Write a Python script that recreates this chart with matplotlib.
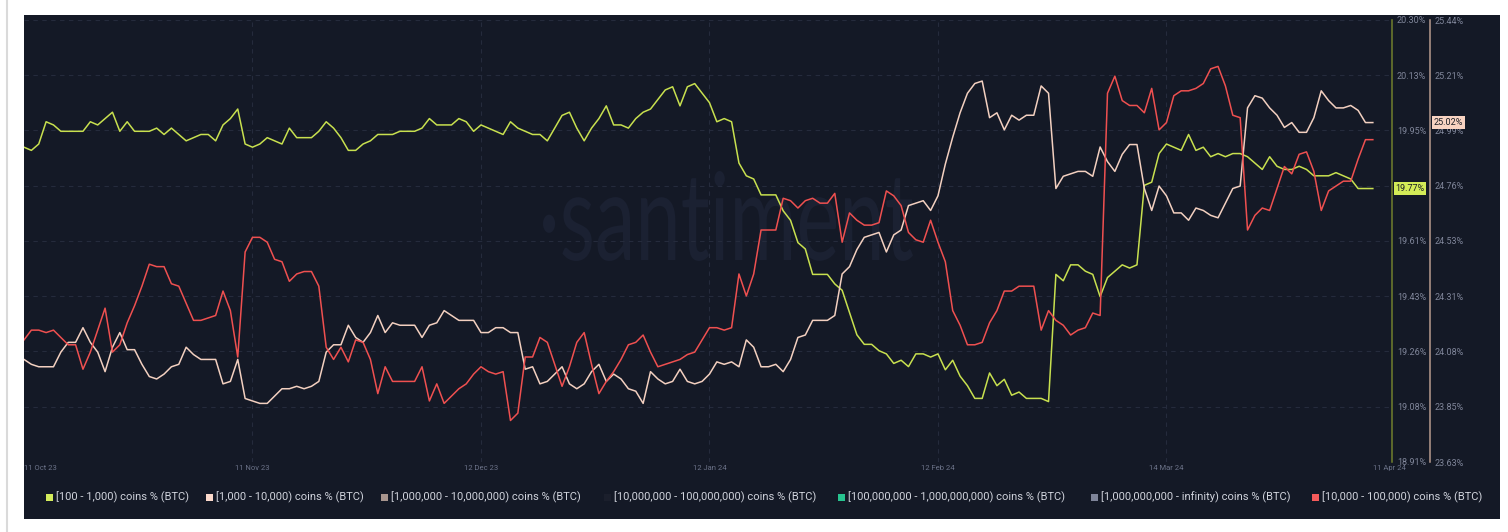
import numpy as np
import pandas as pd
import matplotlib
matplotlib.use("Agg")
import matplotlib.pyplot as plt
import matplotlib.transforms as mtransforms
from matplotlib.patches import Rectangle, PathPatch
from matplotlib.lines import Line2D
from matplotlib.textpath import TextPath
from matplotlib.font_manager import FontProperties

#---- data (daily, 11 Oct 23 -> 11 Apr 24)
holders_100_1k = [  # left axis, %
    19.90, 19.89, 19.91, 19.98, 19.97, 19.95, 19.95, 19.95, 19.95, 19.98,
    19.97, 19.99, 20.01, 19.95, 19.98, 19.95, 19.95, 19.95, 19.96, 19.94,
    19.96, 19.94, 19.92, 19.93, 19.94, 19.94, 19.92, 19.97, 19.99, 20.02,
    19.91, 19.90, 19.91, 19.93, 19.92, 19.91, 19.96, 19.93, 19.93, 19.93,
    19.95, 19.98, 19.96, 19.93, 19.89, 19.89, 19.91, 19.92, 19.94, 19.94,
    19.94, 19.95, 19.95, 19.95, 19.96, 19.99, 19.97, 19.97, 19.97, 19.99,
    19.98, 19.95, 19.97, 19.96, 19.95, 19.94, 19.98, 19.96, 19.95, 19.94,
    19.94, 19.92, 19.96, 20.00, 20.01, 19.96, 19.92, 19.96, 19.99, 20.03,
    19.97, 19.97, 19.96, 19.99, 20.01, 20.02, 20.05, 20.08, 20.09, 20.03,
    20.09, 20.10, 20.07, 20.04, 19.98, 19.99, 19.98, 19.85, 19.81, 19.80,
    19.75, 19.75, 19.75, 19.70, 19.67, 19.60, 19.58, 19.50, 19.50, 19.50,
    19.47, 19.45, 19.38, 19.31, 19.28, 19.28, 19.26, 19.25, 19.22, 19.23,
    19.21, 19.25, 19.25, 19.24, 19.25, 19.20, 19.23, 19.18, 19.15, 19.11,
    19.11, 19.19, 19.15, 19.17, 19.12, 19.13, 19.11, 19.11, 19.11, 19.10,
    19.50, 19.48, 19.53, 19.53, 19.51, 19.50, 19.43, 19.49, 19.51, 19.53,
    19.52, 19.53, 19.78, 19.79, 19.88, 19.91, 19.90, 19.89, 19.94, 19.89,
    19.90, 19.87, 19.88, 19.87, 19.88, 19.88, 19.87, 19.85, 19.83, 19.87,
    19.84, 19.83, 19.83, 19.84, 19.83, 19.81, 19.81, 19.81, 19.82, 19.81,
    19.80, 19.77, 19.77, 19.77,
]
holders_1k_10k = [  # right axis, %
    24.05, 24.03, 24.02, 24.02, 24.02, 24.08, 24.12, 24.12, 24.18, 24.12,
    24.08, 24.00, 24.10, 24.16, 24.09, 24.09, 24.03, 23.98, 23.97, 23.99,
    24.02, 24.03, 24.10, 24.07, 24.05, 24.05, 24.05, 23.95, 23.96, 24.05,
    23.89, 23.88, 23.87, 23.87, 23.90, 23.93, 23.93, 23.94, 23.93, 23.94,
    23.96, 24.08, 24.11, 24.11, 24.19, 24.14, 24.12, 24.16, 24.23, 24.16,
    24.20, 24.19, 24.19, 24.19, 24.14, 24.19, 24.20, 24.25, 24.23, 24.21,
    24.21, 24.21, 24.16, 24.16, 24.18, 24.18, 24.16, 24.16, 24.01, 24.02,
    23.95, 23.96, 23.99, 24.02, 23.95, 23.93, 23.95, 24.00, 24.03, 23.96,
    23.99, 23.97, 23.93, 23.92, 23.87, 24.00, 23.97, 23.95, 23.96, 24.01,
    23.96, 23.95, 23.96, 23.99, 24.04, 24.03, 24.04, 24.02, 24.13, 24.10,
    24.02, 24.02, 24.03, 24.00, 24.05, 24.14, 24.15, 24.21, 24.21, 24.21,
    24.23, 24.40, 24.43, 24.50, 24.55, 24.56, 24.57, 24.49, 24.56, 24.58,
    24.68, 24.69, 24.70, 24.66, 24.72, 24.85, 24.96, 25.06, 25.14, 25.18,
    25.19, 25.04, 25.06, 24.99, 25.05, 25.03, 25.05, 25.05, 25.17, 25.14,
    24.75, 24.80, 24.81, 24.82, 24.82, 24.80, 24.92, 24.86, 24.82, 24.89,
    24.93, 24.93, 24.75, 24.66, 24.76, 24.72, 24.65, 24.65, 24.62, 24.67,
    24.66, 24.64, 24.63, 24.69, 24.75, 24.76, 25.08, 25.13, 25.12, 25.08,
    25.05, 25.00, 25.02, 24.98, 24.98, 25.04, 25.15, 25.11, 25.08, 25.08,
    25.09, 25.07, 25.02, 25.02,
]
holders_10k_100k = [  # no axis shown, drawn against the right scale
    24.13, 24.17, 24.17, 24.16, 24.17, 24.14, 24.11, 24.11, 24.01, 24.08,
    24.17, 24.26, 24.08, 24.11, 24.20, 24.27, 24.35, 24.44, 24.43, 24.43,
    24.36, 24.35, 24.28, 24.21, 24.21, 24.22, 24.23, 24.33, 24.25, 24.06,
    24.49, 24.55, 24.55, 24.53, 24.46, 24.45, 24.37, 24.40, 24.41, 24.41,
    24.35, 24.10, 24.05, 24.10, 24.04, 24.13, 24.12, 24.05, 23.91, 24.02,
    23.96, 23.96, 23.96, 23.96, 24.02, 23.88, 23.95, 23.87, 23.90, 23.93,
    23.95, 23.99, 24.02, 24.00, 23.99, 24.00, 23.80, 23.83, 24.06, 24.06,
    24.14, 24.12, 24.03, 23.94, 24.02, 24.12, 24.16, 24.03, 23.91, 23.96,
    24.00, 24.05, 24.11, 24.12, 24.15, 24.08, 24.02, 24.03, 24.04, 24.05,
    24.07, 24.08, 24.13, 24.18, 24.18, 24.17, 24.18, 24.40, 24.31, 24.40,
    24.58, 24.58, 24.58, 24.71, 24.70, 24.67, 24.70, 24.71, 24.69, 24.69,
    24.73, 24.53, 24.65, 24.62, 24.60, 24.60, 24.61, 24.74, 24.72, 24.68,
    24.57, 24.54, 24.53, 24.62, 24.53, 24.45, 24.25, 24.19, 24.11, 24.11,
    24.12, 24.20, 24.25, 24.33, 24.33, 24.35, 24.35, 24.35, 24.17, 24.25,
    24.21, 24.19, 24.15, 24.17, 24.18, 24.24, 24.23, 25.14, 25.21, 25.11,
    25.09, 25.09, 25.06, 25.16, 24.99, 25.02, 25.13, 25.15, 25.15, 25.16,
    25.18, 25.24, 25.25, 25.17, 25.05, 25.04, 24.58, 24.64, 24.67, 24.66,
    24.75, 24.84, 24.81, 24.89, 24.90, 24.82, 24.66, 24.74, 24.76, 24.78,
    24.78, 24.87, 24.95, 24.95,
]

start_date = "2023-10-11"
tick_dates = ["2023-10-11", "2023-11-11", "2023-12-12", "2024-01-12",
              "2024-02-12", "2024-03-14", "2024-04-11"]
tick_labels = ["11 Oct 23", "11 Nov 23", "12 Dec 23", "12 Jan 24",
               "12 Feb 24", "14 Mar 24", "11 Apr 24"]
left_ticks = ["18.91%", "19.08%", "19.26%", "19.43%", "19.61%",
              "19.78%", "19.95%", "20.13%", "20.30%"]
right_ticks = ["23.63%", "23.85%", "24.08%", "24.31%", "24.53%",
               "24.76%", "24.99%", "25.21%", "25.44%"]
left_range = (18.91, 20.30)
right_range = (23.63, 25.44)

legend_labels = [
    "[100 - 1,000) coins % (BTC)",
    "[1,000 - 10,000) coins % (BTC)",
    "[1,000,000 - 10,000,000) coins % (BTC)",
    "[10,000,000 - 100,000,000) coins % (BTC)",
    "[100,000,000 - 1,000,000,000) coins % (BTC)",
    "[1,000,000,000 - infinity) coins % (BTC)",
    "[10,000 - 100,000) coins % (BTC)",
]
legend_colors = ["#d4ec5c", "#fbd9cb", "#a8958e", "#1b1f2c",
                 "#27c38f", "#7e8499", "#f55b5b"]
legend_x = [46, 206, 381, 604, 838, 1091, 1312]  # px, square left edge

#---- styling
BG = "#141926"
GRID = "#252b3c"
TICK = "#80869a"
YELLOW = "#c8e04f"
PEACH = "#f3d0c0"
RED = "#ef5050"
W, H = 1508, 532

def fx(px):
    return px / W

def fy(py):
    return 1 - py / H

fig = plt.figure(figsize=(W / 100, H / 100), dpi=100)
fig.patch.set_facecolor("white")

# dark card + grey frame line on the left
fig.patches.append(Rectangle((fx(24), fy(519)), fx(1500) - fx(24), fy(15) - fy(519),
                             transform=fig.transFigure, facecolor=BG,
                             edgecolor="none", zorder=-2))
fig.lines.append(Line2D([fx(7), fx(7)], [0, 1], transform=fig.transFigure,
                        color="#dadada", lw=1.5, zorder=-2))

# watermark, drawn as a squeezed text path
fp = FontProperties(family="Lato")
tp = TextPath((0, 0), "\u00b7santiment", size=1, prop=fp)
ext = tp.get_extents()
sx = 370 / ext.width
sy = 122
tr = (mtransforms.Affine2D().translate(-ext.x0, 0).scale(sx / 100, sy / 100)
      .translate(543 / 100, (H - 260) / 100) + fig.dpi_scale_trans)
fig.add_artist(PathPatch(tp, transform=tr, facecolor="#1b2132",
                         edgecolor="none", zorder=-1))

dates = pd.date_range(start_date, periods=len(holders_100_1k), freq="D")

ax = fig.add_axes([fx(24), fy(462), fx(1392) - fx(24), fy(20) - fy(462)])
ax.patch.set_visible(False)
ax2 = ax.twinx()
ax2.patch.set_visible(False)

# spines first: moving a spine resets its ticks
for s in ax.spines.values():
    s.set_visible(False)
for s in ax2.spines.values():
    s.set_visible(False)
ax.spines["right"].set_visible(True)
ax.spines["right"].set_color("#71802d")
ax.spines["right"].set_linewidth(1.1)
ax2.spines["right"].set_visible(True)
ax2.spines["right"].set_color("#b89b8e")
ax2.spines["right"].set_linewidth(1.1)
ax2.spines["right"].set_position(("outward", 38 * 0.72))

ax.plot(dates, holders_100_1k, color=YELLOW, lw=1.1)
ax2.plot(dates, holders_1k_10k, color=PEACH, lw=1.1)
ax2.plot(dates, holders_10k_100k, color=RED, lw=1.1)

x0 = pd.Timestamp(start_date)
ax.set_xlim(x0, x0 + pd.Timedelta(days=185.6))
ax.set_ylim(*left_range)
ax2.set_ylim(*right_range)

# x axis
ax.set_xticks(pd.to_datetime(tick_dates))
ax.set_xticklabels(tick_labels, fontsize=5.5, color="#6c7389", family="Roboto")
ax.tick_params(axis="x", length=0, pad=2.5)
labs = ax.get_xticklabels()
labs[0].set_ha("left")
labs[-1].set_ha("left")
for d in tick_dates[1:-1]:
    ax.axvline(pd.Timestamp(d), color=GRID, lw=0.8, ls=(0, (4, 4)), zorder=0)

# y axes, both on the right
ax.yaxis.tick_right()
ax.set_yticks(np.linspace(left_range[0], left_range[1], len(left_ticks)))
ax.set_yticklabels(left_ticks, fontsize=6.5, color=TICK, family="Roboto")
ax.tick_params(axis="y", length=0, pad=3.6)
ax.grid(axis="y", color=GRID, lw=0.8, ls=(0, (4, 4)))
ax2.set_yticks(np.linspace(right_range[0], right_range[1], len(right_ticks)))
ax2.set_yticklabels(right_ticks, fontsize=6.5, color=TICK, family="Roboto")
ax2.tick_params(axis="y", length=0, pad=3.6)

# last value badges
t1 = mtransforms.blended_transform_factory(ax.transAxes, ax.transData)
ax.text(1.0025, holders_100_1k[-1], f"{holders_100_1k[-1]:.2f}%", transform=t1,
        ha="left", va="center", fontsize=6.5, family="Roboto", color="#1a1d24",
        bbox=dict(boxstyle="square,pad=0.18", fc="#d3eb57", ec="none"), zorder=5)
t2 = mtransforms.blended_transform_factory(ax2.transAxes, ax2.transData)
ax2.text(1.0305, holders_1k_10k[-1], f"{holders_1k_10k[-1]:.2f}%", transform=t2,
         ha="left", va="center", fontsize=6.5, family="Roboto", color="#1a1d24",
         bbox=dict(boxstyle="square,pad=0.18", fc="#f8d3c2", ec="none"), zorder=5)

# legend row under the chart
for lab, col, px in zip(legend_labels, legend_colors, legend_x):
    fig.patches.append(Rectangle((fx(px), fy(500.5)), fx(7), 7 / H,
                                 transform=fig.transFigure, facecolor=col,
                                 edgecolor="none"))
    fig.text(fx(px + 10), fy(497), lab, ha="left", va="center", fontsize=8,
             family="Roboto", color="#d0d3dc")

fig.savefig("out.png", dpi=100, facecolor="white")
